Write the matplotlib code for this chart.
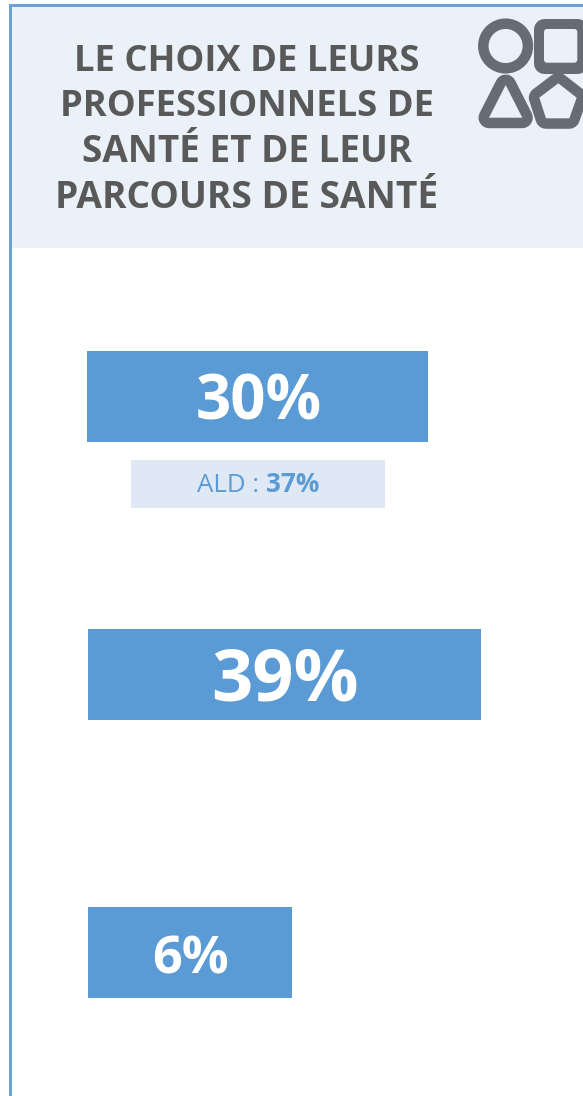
import matplotlib
matplotlib.use("Agg")
import matplotlib.pyplot as plt
from matplotlib.patches import Rectangle, Circle, Polygon, FancyBboxPatch

title_lines = ["LE CHOIX DE LEURS", "PROFESSIONNELS DE", "SANTÉ ET DE LEUR", "PARCOURS DE SANTÉ"]
values = ["30%", "39%", "6%"]
bar_extents = [341, 393, 204]
ald_label = "ALD :"
ald_value = "37%"

BLUE = "#5B9BD5"
DARK = "#595959"
ICON = "#666C73"
HEADER = "#EAF1F9"
plt.rcParams["font.family"] = ["Open Sans", "DejaVu Sans"]

fig = plt.figure(figsize=(5.83, 10.96), dpi=100)
ax = fig.add_axes([0, 0, 1, 1])
ax.set_xlim(0, 583)
ax.set_ylim(1096, 0)
ax.axis("off")

# frame and header
ax.add_patch(Rectangle((12, 6), 571, 242, fc=HEADER, ec="none"))
ax.add_patch(Rectangle((9, 3.5), 3, 1092.5, fc="#6AA3DA", ec="none"))
ax.add_patch(Rectangle((9, 3.5), 574, 3, fc="#6AA3DA", ec="none"))

title_sizes = [26.2, 26.2, 26.6, 26.7]
for line, y, s in zip(title_lines, [62, 107, 152, 198], title_sizes):
    ax.text(247, y, line, ha="center", va="center", fontsize=s, fontweight="bold", color=DARK)

# icon: thick round-joined outline around each inner shape, inner shape filled on top
stroke = 21 * 0.72
shapes = [
    [(505.7, 85), (522.3, 117.7), (489, 117.7)],
    [(558.3, 83.3), (576.7, 97.7), (569.3, 118.3), (546, 118.3), (539.3, 97.7)],
    [(544, 29), (577.3, 29), (577.3, 62.7), (544, 62.7)],
]
for pts in shapes[:2]:
    ax.add_patch(Polygon(pts, closed=True, fc=ICON, ec=ICON, lw=stroke, joinstyle="round"))
    ax.add_patch(Polygon(pts, closed=True, fc=HEADER, ec="none"))
ax.add_patch(Circle((505.6, 46), 22.3, fc="none", ec=ICON, lw=10.5 * 0.72))
ax.add_patch(Polygon(shapes[2], closed=True, fc=ICON, ec=ICON, lw=stroke, joinstyle="round"))
ax.add_patch(FancyBboxPatch((544, 29), 33.3, 33.7, boxstyle="round,pad=0,rounding_size=3",
                            fc=HEADER, ec="none"))

# bars
lefts = [87, 88, 88]
ys = [396.5, 674.5, 952.5]
sizes = [44.5, 52, 37.5]
offsets = [7, 7, 8]
ax.barh(ys, bar_extents, height=91, left=lefts, color=BLUE, linewidth=0)
for y, v, l, w, s, o in zip(ys, values, lefts, bar_extents, sizes, offsets):
    ax.text(l + w / 2 + 1, y + o, v, ha="center", va="center", color="white", fontsize=s, fontweight="bold")

# ALD box
ax.add_patch(Rectangle((131, 460), 254, 48, fc="#DEE9F5", ec="none"))
ax.text(197, 485, ald_label, ha="left", va="center", color=BLUE, fontsize=18.6)
ax.text(266, 484.5, ald_value, ha="left", va="center", color=BLUE, fontsize=18.8, fontweight="bold")

fig.savefig("out.png", dpi=100)
